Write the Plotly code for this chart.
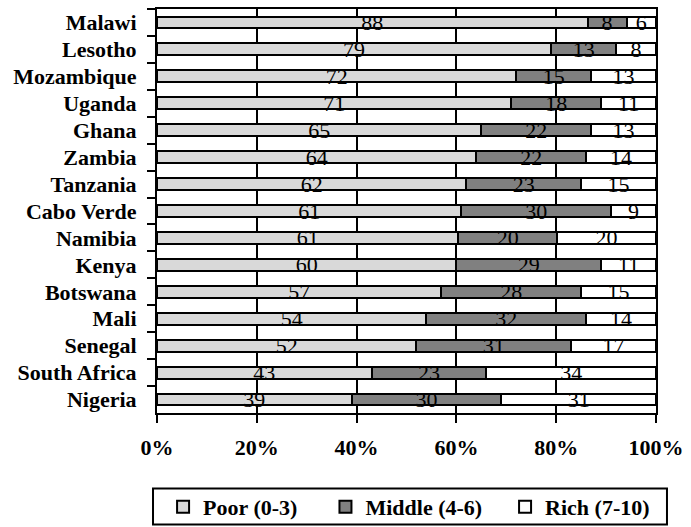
import plotly.graph_objects as go

countries = ["Malawi", "Lesotho", "Mozambique", "Uganda", "Ghana", "Zambia", "Tanzania",
             "Cabo Verde", "Namibia", "Kenya", "Botswana", "Mali", "Senegal",
             "South Africa", "Nigeria"]
poor = [88, 79, 72, 71, 65, 64, 62, 61, 61, 60, 57, 54, 52, 43, 39]
middle = [8, 13, 15, 18, 22, 22, 23, 30, 20, 29, 28, 32, 31, 23, 30]
rich = [6, 8, 13, 11, 13, 14, 15, 9, 20, 11, 15, 14, 17, 34, 31]
series_names = ["Poor (0-3)", "Middle (4-6)", "Rich (7-10)"]
x_ticks = [0, 20, 40, 60, 80, 100]
x_tick_labels = ["0%", "20%", "40%", "60%", "80%", "100%"]

FONT = "Liberation Serif"
SZ = 22
colors = ["#d9d9d9", "#808080", "#ffffff"]
legend_ids = ["legend", "legend2", "legend3"]

fig = go.Figure()
for name, vals, col, lg in zip(series_names, [poor, middle, rich], colors, legend_ids):
    fig.add_trace(go.Bar(
        y=countries, x=vals, name=name, orientation="h", legend=lg,
        marker=dict(color=col, line=dict(color="black", width=2)),
        text=[str(v) for v in vals], texttemplate="%{text}",
        textposition="inside", insidetextanchor="middle", textangle=0,
        constraintext="none", cliponaxis=False,
        insidetextfont=dict(family=FONT, size=SZ, color="black"),
    ))

legend_common = dict(orientation="h", xref="container", yref="container",
                     y=0.038, yanchor="middle",
                     font=dict(family=FONT, size=SZ, color="black", weight="bold"),
                     bgcolor="rgba(0,0,0,0)", borderwidth=0)

fig.update_layout(
    width=691, height=527,
    barmode="stack", barnorm="percent", bargap=0.56,
    plot_bgcolor="white", paper_bgcolor="white",
    margin=dict(l=157, r=31, t=7, b=114),
    uniformtext=dict(minsize=SZ, mode="show"),
    font=dict(family=FONT, size=SZ, color="black"),
    showlegend=True,
    legend=dict(x=0.236, xanchor="left", **legend_common),
    legend2=dict(x=0.471, xanchor="left", **legend_common),
    legend3=dict(x=0.948, xanchor="right", **legend_common),
    shapes=[dict(type="rect", xref="paper", yref="paper",
                 x0=-0.008, x1=1.022, y0=-0.187, y1=-0.276,
                 line=dict(color="black", width=2), fillcolor="rgba(0,0,0,0)",
                 layer="below")],
)
fig.update_xaxes(range=[0, 100], tickvals=x_ticks, ticktext=x_tick_labels,
                 showgrid=True, gridcolor="black", gridwidth=2,
                 showline=True, linecolor="black", linewidth=2, mirror=True,
                 ticks="outside", ticklen=8, tickwidth=2, tickcolor="black",
                 ticklabelstandoff=6, zeroline=False,
                 tickfont=dict(family=FONT, size=SZ, color="black", weight="bold"))
fig.update_yaxes(autorange="reversed", showgrid=False,
                 showline=True, linecolor="black", linewidth=2, mirror=True,
                 ticks="outside", ticklen=8, tickwidth=2, tickcolor="black",
                 tickson="boundaries", ticklabelstandoff=14,
                 tickfont=dict(family=FONT, size=SZ, color="black", weight="bold"))

fig.write_html("out.html", config={"displayModeBar": False},
               post_script="document.body.style.margin='0';")
